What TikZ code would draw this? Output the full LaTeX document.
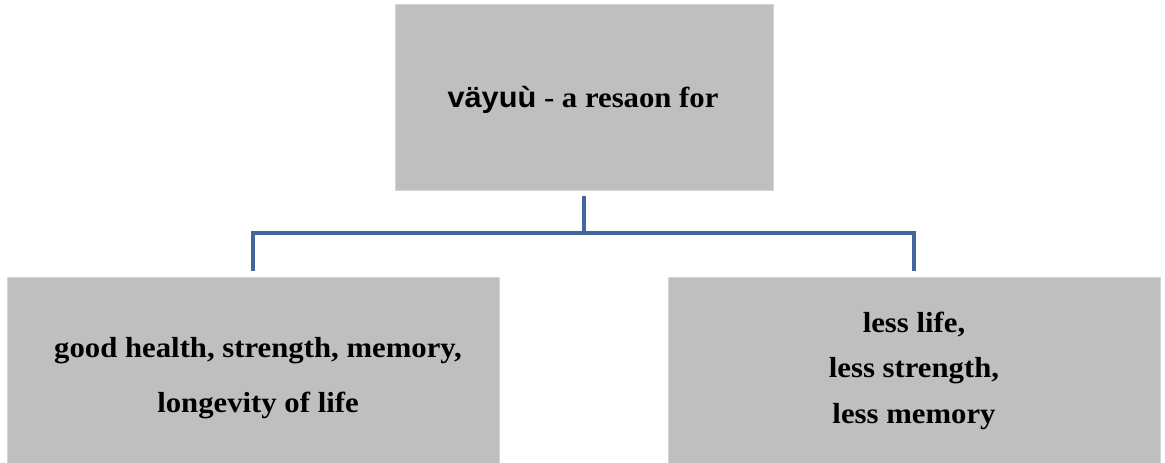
\documentclass[tikz,border=0pt]{standalone}
\usepackage{fontspec}
\setmainfont{Liberation Serif}[FakeStretch=1.06]
\newfontfamily\sansbold{Liberation Sans}[FakeStretch=1.06]
\definecolor{boxgray}{HTML}{BFBFBF}
\definecolor{boxedge}{HTML}{D6D6D6}
\definecolor{linkblue}{HTML}{41679A}
\begin{document}
\begin{tikzpicture}[x=1pt,y=-1pt,
  box/.style={rectangle, fill=boxgray, draw=boxedge, line width=0.8pt, inner sep=0pt},
  txt/.style={font=\fontsize{29}{45.5}\selectfont\bfseries, align=center, inner sep=0pt},
  conn/.style={draw=linkblue, line width=4pt, line join=miter}]
  \useasboundingbox (0,0) rectangle (1165,463);
  % boxes
  \node[box, minimum width=378pt, minimum height=186pt] (top) at (584,97) {};
  \node[box, minimum width=492pt, minimum height=188pt] (lb) at (253,371) {};
  \node[box, minimum width=492pt, minimum height=188pt] (rb) at (914,371) {};
  % texts (anchored on the baseline of their last line)
  \node[txt, anchor=base] (tt) at (583,107) {{\sansbold\bfseries väyuù} - a resaon for};
  \node[txt, anchor=base, font=\fontsize{29}{55}\selectfont\bfseries] (lt) at (258,412) {good health, strength, memory,\\longevity of life};
  \node[txt, anchor=base] (rt) at (914,423) {less life,\\less strength,\\less memory};
  % connectors
  \coordinate (j) at (584,233);
  \draw[conn] ([yshift=-6pt]top.south) -- (j);
  \draw[conn] ([yshift=6pt]lb.north) |- (j) -| ([yshift=6pt]rb.north);
\end{tikzpicture}
\end{document}
